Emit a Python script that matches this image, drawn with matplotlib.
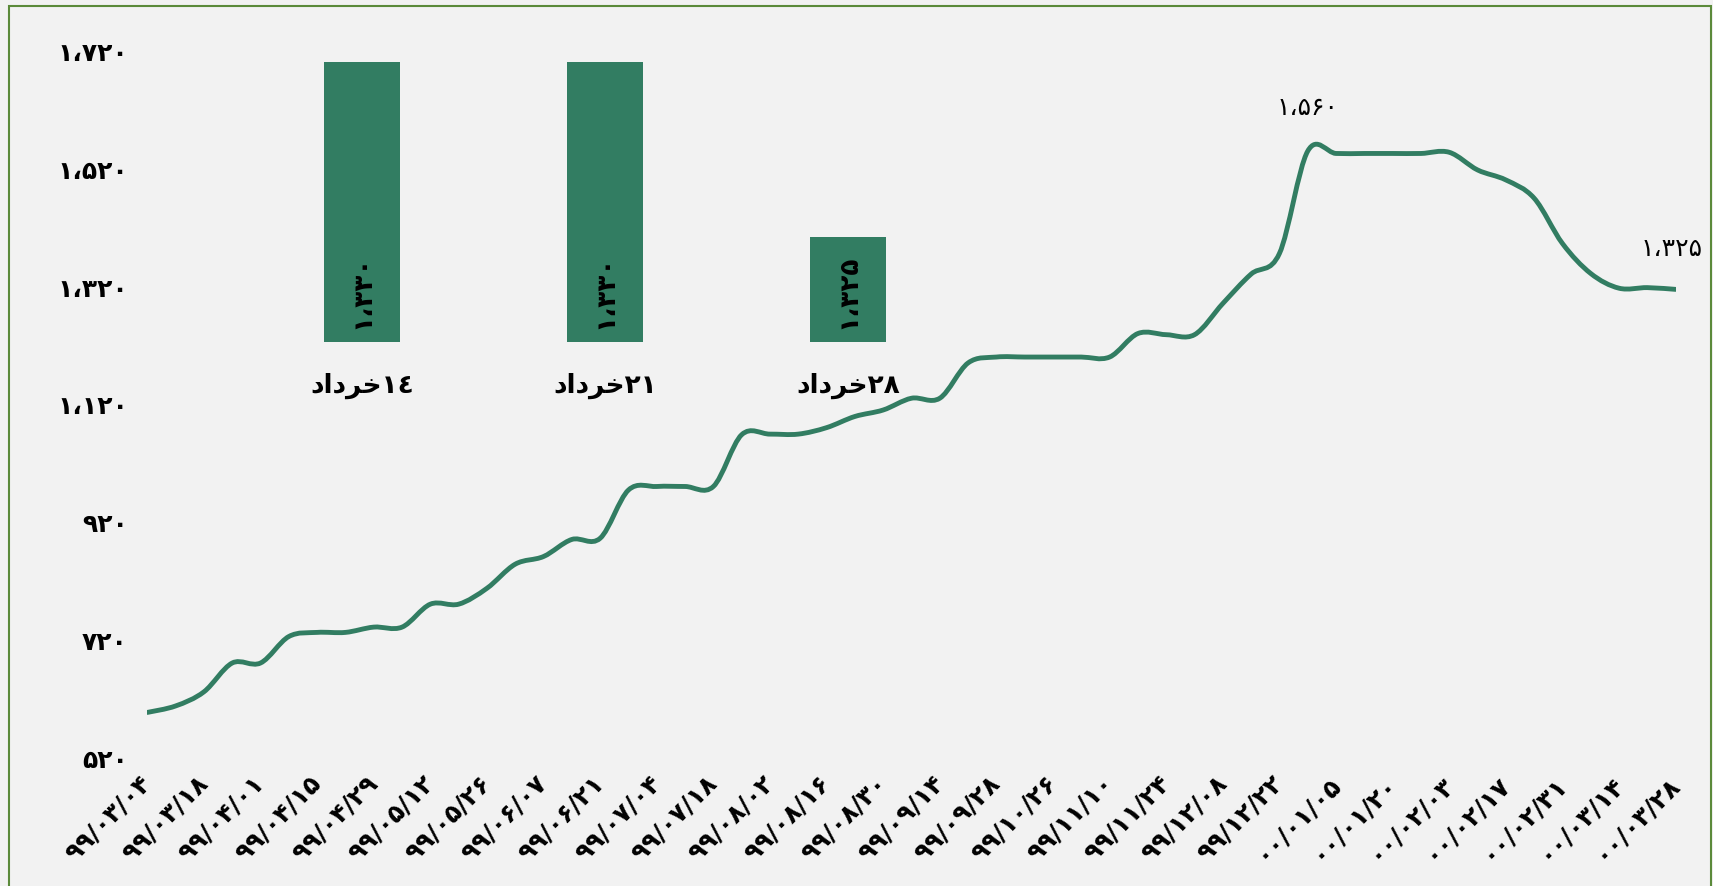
import matplotlib
matplotlib.use('Agg')
import matplotlib.pyplot as plt
from matplotlib.path import Path
from matplotlib.patches import PathPatch, Rectangle
from matplotlib.ticker import FixedLocator, FuncFormatter
from matplotlib.transforms import blended_transform_factory, ScaledTranslation

plt.rcParams['font.family'] = ['DejaVu Sans']

# weekly price series (one point per week, labels every second week)
dates = ['99/03/04', '99/03/18', '99/04/01', '99/04/15', '99/04/29', '99/05/12',
         '99/05/26', '99/06/07', '99/06/21', '99/07/04', '99/07/18', '99/08/02',
         '99/08/16', '99/08/30', '99/09/14', '99/09/28', '99/10/26', '99/11/10',
         '99/11/24', '99/12/08', '99/12/22', '00/01/05', '00/01/20', '00/02/03',
         '00/02/17', '00/02/31', '00/03/14', '00/03/28']
prices = [606, 617, 641, 690, 690, 735, 742, 742, 751, 751,
          790, 790, 817, 858, 871, 900, 902, 984, 990, 990,
          990, 1078, 1079, 1079, 1090, 1109, 1120, 1140, 1140, 1200,
          1210, 1210, 1210, 1210, 1210, 1250, 1248, 1248, 1301, 1351,
          1386, 1560, 1556, 1556, 1556, 1556, 1558, 1528, 1511, 1480,
          1403, 1352, 1327, 1328, 1325]

# inset: last three weeks
bar_days = ['14', '21', '28']
bar_values = [1330, 1330, 1325]
month = '\ufea9\ufe8d\ufea9\ufeae\ufea7'  # خرداد, shaped, visual order

green = '#327d62'
bg = '#f2f2f2'

fa = str.maketrans('0123456789', '۰۱۲۳۴۵۶۷۸۹')
ar = str.maketrans('0123456789', '٠١٢٣٤٥٦٧٨٩')


def fa_num(v):
    return f'{int(v):,}'.replace(',', '،').translate(fa)


def smooth_path(xs, ys):
    pts = list(zip(xs, ys))
    n = len(pts)
    verts = [pts[0]]
    codes = [Path.MOVETO]
    for i in range(n - 1):
        p0 = pts[max(i - 1, 0)]
        p1 = pts[i]
        p2 = pts[i + 1]
        p3 = pts[min(i + 2, n - 1)]
        c1 = (p1[0] + (p2[0] - p0[0]) / 6, p1[1] + (p2[1] - p0[1]) / 6)
        c2 = (p2[0] - (p3[0] - p1[0]) / 6, p2[1] - (p3[1] - p1[1]) / 6)
        verts += [c1, c2, p2]
        codes += [Path.CURVE4] * 3
    return Path(verts, codes)


fig = plt.figure(figsize=(17.13, 8.86), dpi=100, facecolor=bg)

ax = fig.add_axes([0.086, 0.1388, 0.8922, 0.7969])
ax.set_facecolor(bg)
for s in ax.spines.values():
    s.set_visible(False)

x = list(range(len(prices)))
ax.add_patch(PathPatch(smooth_path(x, prices), facecolor='none', edgecolor=green,
                       lw=3.5, capstyle='round', joinstyle='round'))
ax.set_xlim(0, len(prices) - 1)
ax.set_ylim(520, 1720)

ax.yaxis.set_major_locator(FixedLocator(range(520, 1721, 200)))
ax.yaxis.set_major_formatter(FuncFormatter(lambda v, p: fa_num(v)))
ax.set_xticks(x[::2])
ax.set_xticklabels([d.translate(fa) for d in dates], rotation=45, ha='right',
                   rotation_mode='anchor', va='center')
ax.tick_params(length=0)
ax.tick_params(axis='y', pad=14, labelsize=18)
ax.tick_params(axis='x', pad=12, labelsize=18)
for t in ax.get_xticklabels() + ax.get_yticklabels():
    t.set_fontweight('bold')
up = ScaledTranslation(0, 5 / 100, fig.dpi_scale_trans)
for t in ax.get_yticklabels():
    t.set_transform(t.get_transform() + up)

ax.annotate(fa_num(prices[41]), xy=(41, prices[41]), xytext=(0, 43),
            textcoords='offset pixels', ha='center', va='center', fontsize=18)
ax.annotate(fa_num(prices[-1]), xy=(54, prices[-1]), xytext=(-4, 40),
            textcoords='offset pixels', ha='center', va='center', fontsize=18)

# inset bar chart
ax2 = fig.add_axes([0.1404, 0.614, 0.4256, 0.316])
ax2.patch.set_alpha(0)
for s in ax2.spines.values():
    s.set_visible(False)
ax2.set_xticks([])
ax2.set_yticks([])
ax2.bar(range(3), bar_values, width=0.31, color=green)
ax2.set_xlim(-0.5, 2.5)
ax2.set_ylim(1322, 1330)
tr = blended_transform_factory(ax2.transData, ax2.transAxes)
for i, (d, v) in enumerate(zip(bar_days, bar_values)):
    ax2.text(i, 0.18, fa_num(v), transform=tr, rotation=90, ha='center',
             va='center', fontsize=19, fontweight='bold')
    ax2.text(i, -0.155, month + d.translate(ar), transform=tr, ha='center',
             va='center', fontsize=19, fontweight='bold')

fig.add_artist(Rectangle((0.0053, -0.05), 0.9935, 1.043, transform=fig.transFigure,
                         fill=False, edgecolor='#5b8a3a', lw=1.5))

fig.savefig('out.png', dpi=100, facecolor=bg)
